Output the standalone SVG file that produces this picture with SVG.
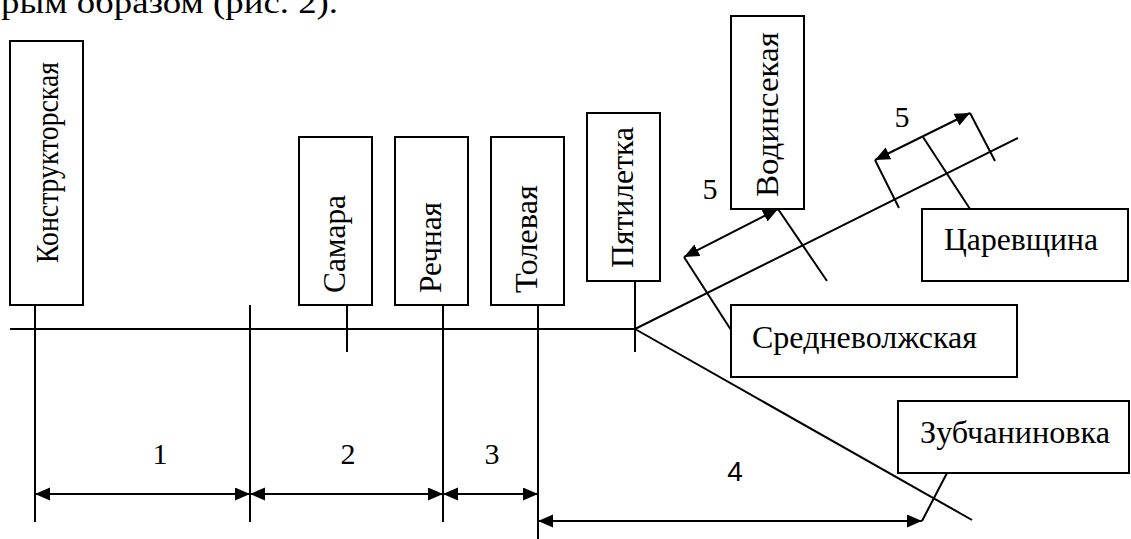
<svg xmlns="http://www.w3.org/2000/svg" width="1131" height="539" viewBox="0 0 1131 539">
<style>
.box{fill:#fff;stroke:#000;stroke-width:2}
.ln{stroke:#000;stroke-width:2;fill:none}
.dim{stroke:#000;stroke-width:2;fill:none;marker-start:url(#ah);marker-end:url(#ah)}
.t{font-family:"Liberation Serif","Times New Roman",serif;font-size:28px;fill:#000}
.h{font-size:31px}
.n{font-size:30px}
.s{font-family:"Liberation Sans",Arial,sans-serif;font-size:28px;fill:#000}
</style>
<defs>
<marker id="ah" markerUnits="userSpaceOnUse" markerWidth="16" markerHeight="14" refX="15" refY="6.5" orient="auto-start-reverse">
<path d="M0,0 L15,6.5 L0,13 z" fill="#000"/>
</marker>
</defs>
<rect width="1131" height="539" fill="#fff"/>
<text class="t" style="font-size:32px" x="1" y="13" textLength="337" lengthAdjust="spacingAndGlyphs">рым образом (рис. 2).</text>

<g id="connectors">
<line class="ln" x1="10" y1="329" x2="635" y2="329"/>
<line class="ln" x1="635" y1="329" x2="1018" y2="138"/>
<line class="ln" x1="635" y1="329" x2="972" y2="520"/>
<line class="ln" x1="35" y1="305" x2="35" y2="522"/>
<line class="ln" x1="250" y1="305" x2="250" y2="522"/>
<line class="ln" x1="347" y1="305" x2="347" y2="352"/>
<line class="ln" x1="443" y1="305" x2="443" y2="522"/>
<line class="ln" x1="538" y1="305" x2="538" y2="539"/>
<line class="ln" x1="635" y1="281" x2="635" y2="352"/>
<line class="ln" x1="778" y1="209" x2="827" y2="281"/>
<line class="dim" x1="684" y1="257" x2="778" y2="209"/>
<line class="ln" x1="684" y1="257" x2="731" y2="330"/>
<line class="dim" x1="875" y1="160" x2="970" y2="113"/>
<line class="ln" x1="875" y1="160" x2="899" y2="208"/>
<line class="ln" x1="970" y1="113" x2="995" y2="161"/>
<line class="ln" x1="923" y1="137" x2="970" y2="209"/>
<line class="dim" x1="35" y1="494" x2="250" y2="494"/>
<line class="dim" x1="250" y1="494" x2="443" y2="494"/>
<line class="dim" x1="443" y1="494" x2="538" y2="494"/>
<line class="dim" x1="538" y1="521" x2="922" y2="521"/>
<line class="ln" x1="922" y1="521" x2="947" y2="473"/>
<text class="t n" x="160" y="464" text-anchor="middle">1</text>
<text class="t n" x="348" y="464" text-anchor="middle">2</text>
<text class="t n" x="492" y="464" text-anchor="middle">3</text>
<text class="s" x="735" y="481" text-anchor="middle">4</text>
<text class="t n" x="710" y="199" text-anchor="middle">5</text>
<text class="t n" x="902" y="127" text-anchor="middle">5</text>
</g>

<g id="n-konstruktorskaya">
<rect class="box" x="10" y="41" width="73" height="264"/>
<text class="t" transform="translate(58,263) scale(1.16,1) rotate(-90)" textLength="201" lengthAdjust="spacingAndGlyphs">Конструкторская</text>
</g>
<g id="n-samara">
<rect class="box" x="299" y="137" width="73" height="168"/>
<text class="t" transform="translate(345,293) scale(1.16,1) rotate(-90)" textLength="98" lengthAdjust="spacingAndGlyphs">Самара</text>
</g>
<g id="n-rechnaya">
<rect class="box" x="395" y="137" width="73" height="168"/>
<text class="t" transform="translate(441,293) scale(1.16,1) rotate(-90)" textLength="91" lengthAdjust="spacingAndGlyphs">Речная</text>
</g>
<g id="n-tolevaya">
<rect class="box" x="491" y="137" width="73" height="168"/>
<text class="t" transform="translate(537,293) scale(1.16,1) rotate(-90)" textLength="108" lengthAdjust="spacingAndGlyphs">Толевая</text>
</g>
<g id="n-pyatiletka">
<rect class="box" x="587" y="113" width="73" height="168"/>
<text class="t" transform="translate(633,268) scale(1.16,1) rotate(-90)" textLength="141" lengthAdjust="spacingAndGlyphs">Пятилетка</text>
</g>
<g id="n-vodinsekaya">
<rect class="box" x="731" y="16" width="73" height="193"/>
<text class="t" transform="translate(778,197) scale(1.16,1) rotate(-90)" textLength="165" lengthAdjust="spacingAndGlyphs">Водинсекая</text>
</g>
<g id="n-srednevolzhskaya">
<rect class="box" x="731" y="305" width="286" height="72"/>
<text class="t h" x="752" y="348" textLength="225" lengthAdjust="spacingAndGlyphs">Средневолжская</text>
</g>
<g id="n-tsarevshchina">
<rect class="box" x="922" y="209" width="206" height="72"/>
<text class="t h" x="944" y="250" textLength="154" lengthAdjust="spacingAndGlyphs">Царевщина</text>
</g>
<g id="n-zubchaninovka">
<rect class="box" x="898" y="401" width="231" height="72"/>
<text class="t h" x="920" y="443" textLength="190" lengthAdjust="spacingAndGlyphs">Зубчаниновка</text>
</g>
</svg>
